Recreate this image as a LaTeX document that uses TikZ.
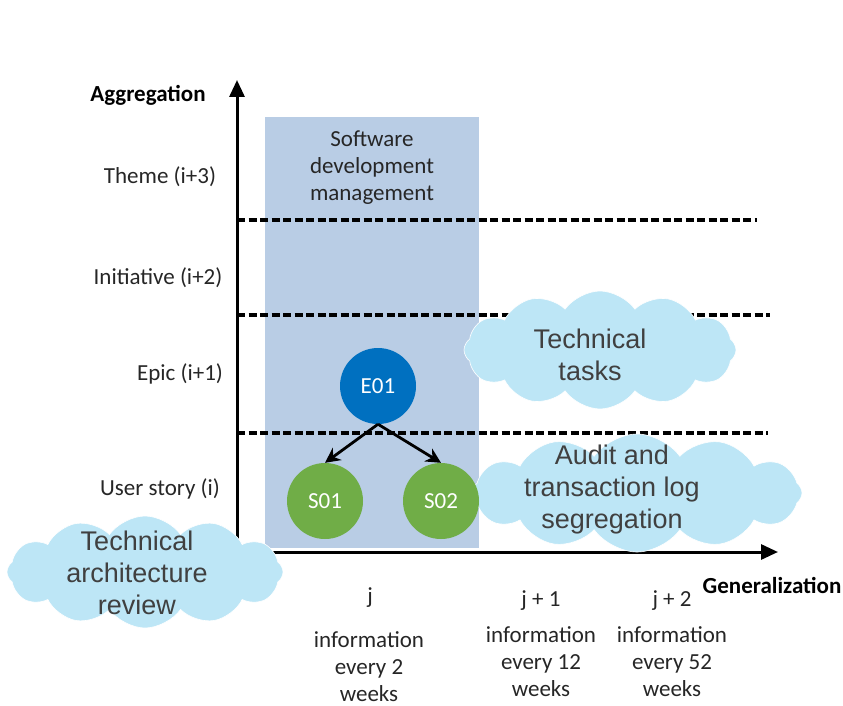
\documentclass[tikz,border=0pt]{standalone}
\usepackage{fontspec}
\setmainfont{Carlito}
\newfontfamily\cloudfont{Liberation Sans}
\usetikzlibrary{shapes.symbols,arrows.meta}
\definecolor{bandblue}{HTML}{B9CDE5}
\definecolor{epicblue}{HTML}{0070C0}
\definecolor{storygreen}{HTML}{70AD47}
\definecolor{cloudcyan}{HTML}{BDE6F6}
\definecolor{cloudtext}{HTML}{404040}
\definecolor{labeltext}{HTML}{262626}
\tikzset{
  lvl/.style={font=\fontsize{23}{27}\selectfont, text=labeltext, inner sep=0pt},
  axislbl/.style={font=\fontsize{23}{27}\selectfont\bfseries, inner sep=0pt},
  bottomlbl/.style={font=\fontsize{23}{27}\selectfont, text=labeltext, align=center, inner sep=0pt},
  sep/.style={line width=3.6pt, dash pattern=on 8pt off 3.5pt},
  axis/.style={line width=3pt, -{Triangle[length=17pt,width=15pt]}},
  ball/.style={circle, minimum size=76pt, inner sep=0pt, text=white, font=\fontsize{23}{26}\selectfont},
  cloudbox/.style={cloud, cloud puffs=12, cloud puff arc=110, fill=cloudcyan, draw=white, line width=0.6pt, inner sep=0pt},
  cloudlbl/.style={text=cloudtext, align=center, inner sep=0pt, font=\cloudfont\fontsize{27}{32}\selectfont},
  tree/.style={line width=2.8pt, -{Stealth[length=15pt,width=15pt]}}
}
\begin{document}
\begin{tikzpicture}[x=1pt,y=-1pt]
\useasboundingbox (0,0) rectangle (843,706);
% band
\node[fill=bandblue, minimum width=214pt, minimum height=431pt, inner sep=0pt, anchor=north west] (band) at (265,117) {};
\node[bottomlbl] (sdm) at (372,168) {Software\\development\\management};
% separators
\coordinate (d1a) at (237,220); \coordinate (d1b) at (757,220);
\coordinate (d2a) at (237,315); \coordinate (d2b) at (770,315);
\coordinate (d3a) at (237,433); \coordinate (d3b) at (768,433);
\draw[sep] (d1a) -- (d1b);
\draw[sep] (d2a) -- (d2b);
\draw[sep] (d3a) -- (d3b);
% axes
\coordinate (o) at (237,552);
\coordinate (ytip) at (237,80);
\coordinate (xtip) at (778,552);
\draw[axis] (o) -- (ytip);
\draw[axis] (o) -- (xtip);
\node[axislbl] (agg) at (148,95) {Aggregation};
\node[axislbl] (gen) at (772,585) {Generalization};
% level labels
\node[lvl] (theme) at (160,177) {Theme (i+3)};
\node[lvl] (init) at (158,278) {Initiative (i+2)};
\node[lvl] (epic) at (180,374) {Epic (i+1)};
\node[lvl] (story) at (160,489) {User story (i)};
% clouds
\node[cloudbox, minimum width=272pt, minimum height=118pt] (c1) at (600,350) {};
\node[cloudlbl] (c1t) at (590,355) {Technical\\tasks};
\node[cloudbox, minimum width=330pt, minimum height=118pt] (c2) at (637,493) {};
\node[cloudlbl] (c2t) at (612,490) {Audit and\\transaction log\\segregation};
% tree
\node[ball, fill=epicblue] (e01) at (378,386) {E01};
\node[ball, fill=storygreen] (s01) at (325,501) {S01};
\node[ball, fill=storygreen] (s02) at (441,501) {S02};
\draw[tree] (e01.south) -- (s01.north);
\draw[tree] (e01.south) -- (s02.north);
\node[cloudbox, minimum width=276pt, minimum height=112pt] (c3) at (145,572) {};
\node[cloudlbl] (c3t) at (137,573) {Technical\\architecture\\review};
% bottom labels
\node[bottomlbl] (j0) at (370,598) {j};
\node[bottomlbl] (i0) at (369,667) {information\\every 2\\weeks};
\node[bottomlbl] (j1) at (541,601) {j + 1};
\node[bottomlbl] (i1) at (541,662) {information\\every 12\\weeks};
\node[bottomlbl] (j2) at (672,601) {j + 2};
\node[bottomlbl] (i2) at (672,662) {information\\every 52\\weeks};
\end{tikzpicture}
\end{document}
